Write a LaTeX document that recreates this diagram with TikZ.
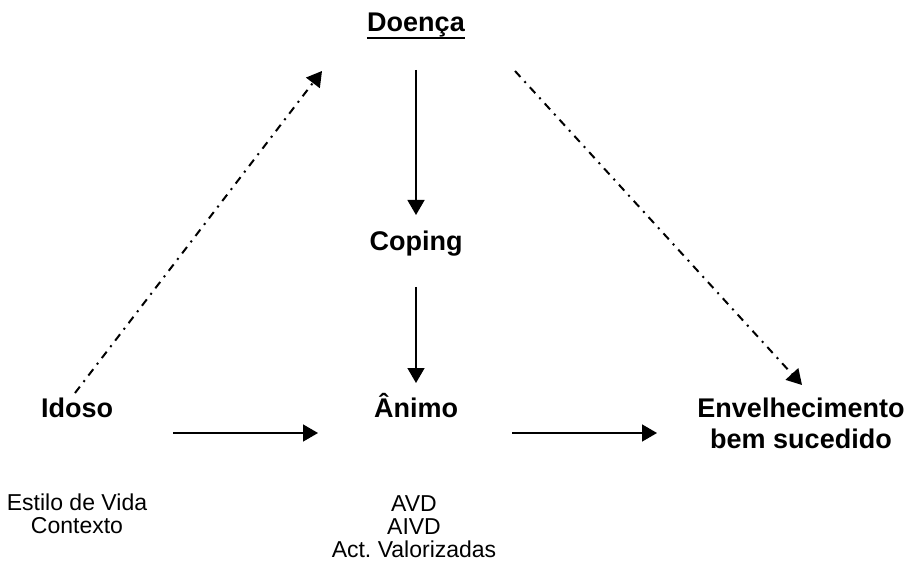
\documentclass[tikz,border=0pt]{standalone}
\usepackage{fontspec}
\setmainfont{Liberation Sans}
\usetikzlibrary{arrows.meta,calc}
\begin{document}
\begin{tikzpicture}[x=0.5pt, y=-0.5pt,
    title/.style={font=\fontsize{13.5}{15.5}\selectfont\bfseries, inner sep=0pt},
    note/.style={font=\fontsize{11.5}{11.5}\selectfont, align=center, inner sep=0pt},
    arr/.style={-{Triangle[length=7.5pt,width=8.5pt]}, line width=0.75pt},
    dotarr/.style={arr, line width=1pt, dash pattern=on 4pt off 3pt on 1pt off 3pt}]
    \useasboundingbox (0,0) rectangle (910,561);
    % Nodes
    \node[title, anchor=base] (doenca) at (416,32) {Doença};
    \draw[line width=1.1pt] ($(doenca.base west)+(0,6)$) -- ($(doenca.base east)+(0,6)$); % underline
    \node[title, anchor=base] (coping) at (416,251) {Coping};
    \node[title, anchor=base] (animo) at (416,417) {Ânimo};
    \node[title, anchor=base] (idoso) at (77,417) {Idoso};
    \node[title, align=center, anchor=north] (envel) at (801,398) {Envelhecimento\\bem sucedido};
    % Notes
    \node[note, anchor=north] (estilo) at (77,493) {Estilo de Vida\\Contexto};
    \node[note, anchor=north] (avd) at (414,495) {AVD\\AIVD\\Act.\ Valorizadas};
    % Edges
    \draw[arr] ($(doenca.base)+(0,38)$) -- ($(coping.base)+(0,-36)$);
    \draw[arr] ($(coping.base)+(0,36)$) -- ($(animo.base)+(0,-34)$);
    \draw[arr] ($(idoso.base)+(96,16)$) -- ($(animo.base)+(-98,16)$);
    \draw[arr] ($(animo.base)+(96,16)$) -- ($(envel.north)+(-144,35)$);
    % Dash-dot edges
    \draw[dotarr] ($(idoso.base)+(-2,-24)$) -- ($(doenca.base)+(-94,39)$);
    \draw[dotarr] ($(doenca.base)+(99,39)$) -- ($(envel.north)+(1,-13)$);
\end{tikzpicture}
\end{document}
